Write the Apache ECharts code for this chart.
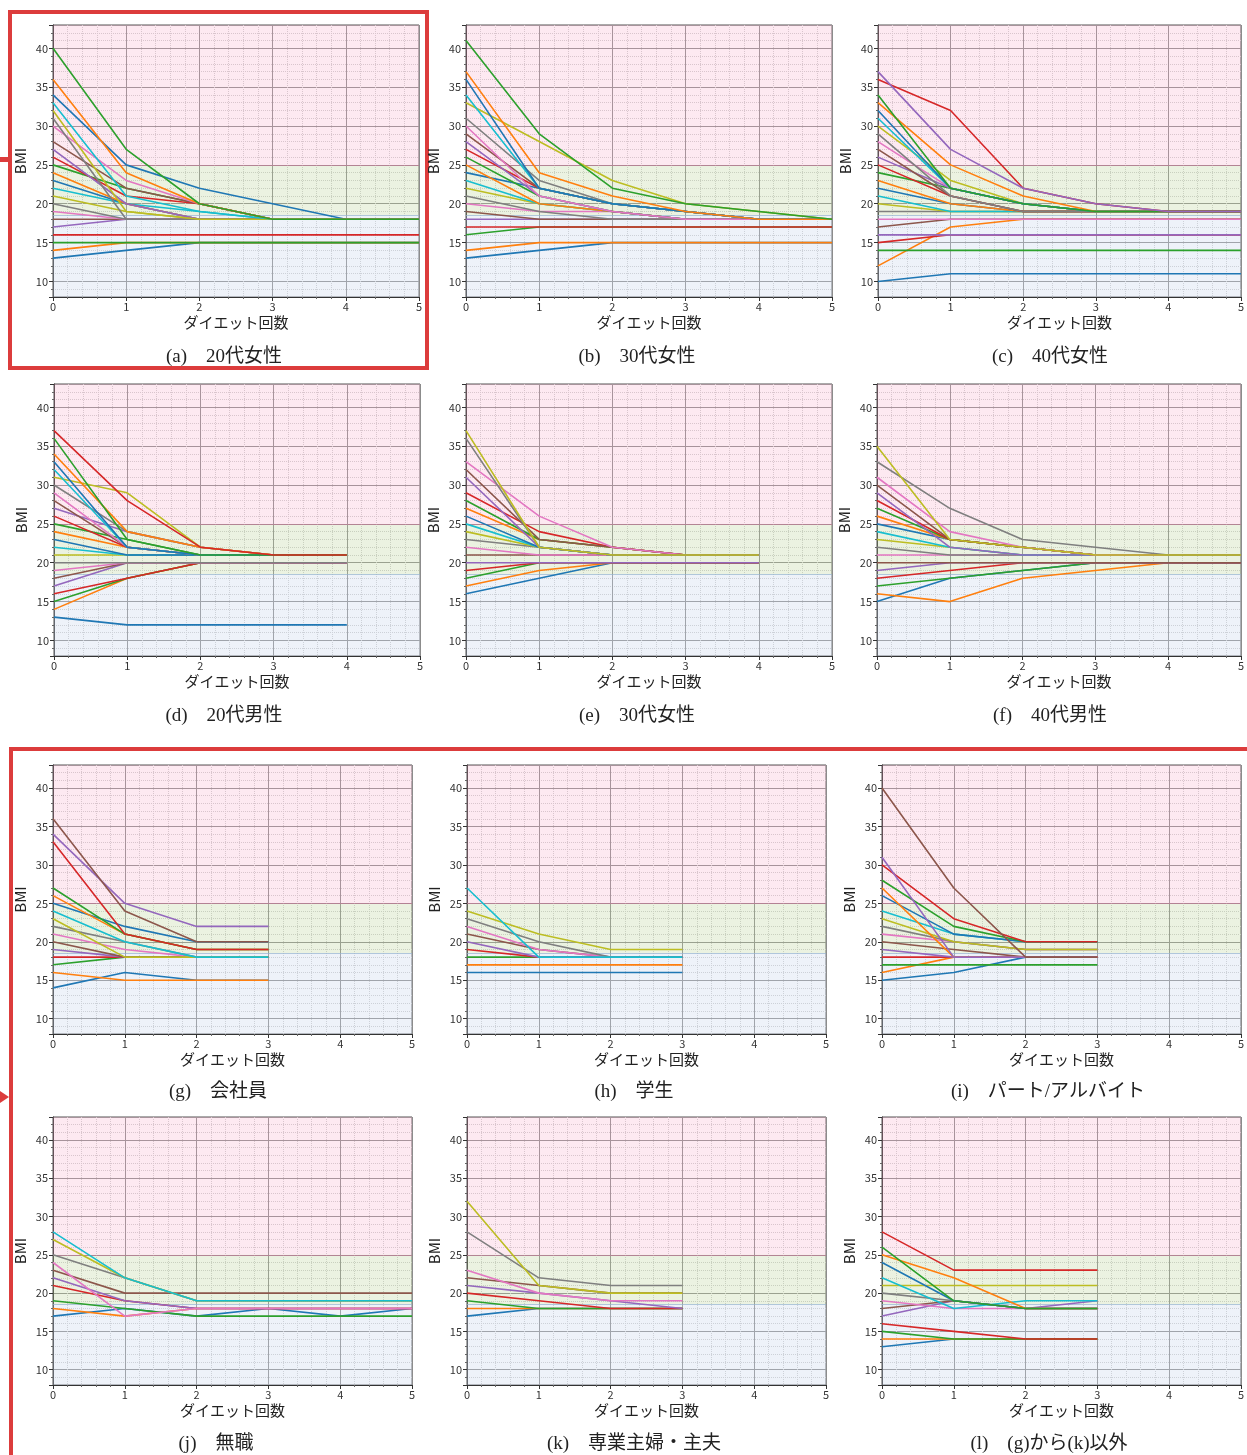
<!DOCTYPE html>
<html>
<head>
<meta charset="utf-8">
<script src="https://cdn.jsdelivr.net/npm/echarts@6/dist/echarts.min.js"></script>
<style>
  html, body { margin: 0; padding: 0; background: #fff; }
  #bmi { width: 1247px; height: 1455px; }
</style>
</head>
<body>
<div id="bmi"></div>
<script>
// x = ダイエット回数 (index), value = BMI
var bmiA = [
  [13,14,15,15,15,15],[14,15,15,15,15,15],[15,15,15,15,15,15],[16,16,16,16,16,16],
  [17,18,18,18,18,18],[18,18,18,18,18,18],[19,18,18,18,18,18],[20,18,18,18,18,18],
  [21,19,18,18,18,18],[22,20,19,18,18,18],[23,20,18,18,18,18],[24,20,18,18,18,18],
  [25,22,20,18,18,18],[26,21,20,18,18,18],[27,20,18,18,18,18],[28,22,20,18,18,18],
  [30,23,20,18,18,18],[31,18,18,18,18,18],[32,19,18,18,18,18],[33,21,19,18,18,18],
  [34,25,22,20,18,18],[36,24,20,18,18,18],[40,27,20,18,18,18]
];
var bmiB = [
  [13,14,15,15,15,15],[14,15,15,15,15,15],[16,17,17,17,17,17],[17,17,17,17,17,17],
  [18,18,18,18,18,18],[19,18,18,18,18,18],[20,19,19,18,18,18],[21,19,18,18,18,18],
  [22,20,19,18,18,18],[23,20,19,18,18,18],[24,22,20,19,18,18],[25,20,19,18,18,18],
  [26,21,19,18,18,18],[27,22,20,19,18,18],[28,21,19,18,18,18],[29,22,20,19,18,18],
  [30,21,19,18,18,18],[31,23,20,19,18,18],[33,28,23,20,19,18],[34,22,20,19,18,18],
  [36,22,20,19,18,18],[37,24,21,19,18,18],[41,29,22,20,19,18]
];
var bmiC = [
  [10,11,11,11,11,11],[12,17,18,18,18,18],[14,14,14,14,14,14],[15,16,16,16,16,16],
  [16,16,16,16,16,16],[17,18,18,18,18,18],[18,18,18,18,18,18],[19,19,19,19,19,19],
  [20,19,19,19,19,19],[21,19,19,19,19,19],[22,20,19,19,19,19],[23,20,19,19,19,19],
  [24,22,20,19,19,19],[25,21,19,19,19,19],[26,22,20,19,19,19],[27,21,19,19,19,19],
  [28,22,20,19,19,19],[29,21,19,19,19,19],[30,23,20,19,19,19],[31,22,20,19,19,19],
  [32,22,20,19,19,19],[33,25,21,19,19,19],[34,22,20,19,19,19],[36,32,22,20,19,19],
  [37,27,22,20,19,19]
];
var bmiD = [
  [13,12,12,12,12],[14,18,20,20,20],[15,18,20,20,20],[16,18,20,20,20],
  [17,20,20,20,20],[18,20,20,20,20],[19,20,20,20,20],[20,20,20,20,20],
  [21,21,21,21,21],[22,21,21,21,21],[23,21,21,21,21],[24,22,21,21,21],
  [25,23,21,21,21],[26,22,21,21,21],[27,24,22,21,21],[28,22,21,21,21],
  [29,22,21,21,21],[30,24,22,21,21],[31,29,22,21,21],[32,22,21,21,21],
  [33,22,21,21,21],[34,24,22,21,21],[36,23,21,21,21],[37,28,22,21,21]
];
var bmiE = [
  [16,18,20,20,20],[17,19,20,20,20],[18,20,20,20,20],[19,20,20,20,20],
  [20,20,20,20,20],[21,21,21,21,21],[22,21,21,21,21],[23,22,21,21,21],
  [24,22,21,21,21],[25,22,21,21,21],[26,22,21,21,21],[27,23,22,21,21],
  [28,23,22,21,21],[29,24,22,21,21],[31,22,21,21,21],[32,23,22,21,21],
  [33,26,22,21,21],[36,22,21,21,21],[37,22,21,21,21]
];
var bmiF = [
  [15,18,19,20,20,20],[16,15,18,19,20,20],[17,18,19,20,20,20],[18,19,20,20,20,20],
  [19,20,20,20,20,20],[20,20,20,20,20,20],[21,21,21,21,21,21],[22,21,21,21,21,21],
  [23,22,21,21,21,21],[24,22,21,21,21,21],[25,23,22,21,21,21],[26,23,22,21,21,21],
  [27,23,22,21,21,21],[28,23,22,21,21,21],[29,22,21,21,21,21],[30,23,22,21,21,21],
  [31,24,22,21,21,21],[33,27,23,22,21,21],[35,23,22,21,21,21]
];
var bmiG = [
  [14,16,15,15],[16,15,15,15],[17,18,18,18],[18,18,18,18],[19,18,18,18],[20,18,18,18],
  [21,19,18,18],[22,20,18,18],[23,18,18,18],[24,20,18,18],[25,22,20,20],[26,21,19,19],
  [27,21,19,19],[33,21,19,19],[34,25,22,22],[36,24,20,20]
];
var bmiH = [
  [16,16,16,16],[17,17,17,17],[18,18,18,18],[19,18,18,18],[20,18,18,18],
  [21,19,18,18],[22,19,18,18],[23,20,18,18],[24,21,19,19],[27,18,18,18]
];
var bmiI = [
  [15,16,18,18],[16,18,18,18],[17,17,17,17],[18,18,18,18],[19,18,18,18],[20,19,18,18],
  [21,20,19,19],[22,20,19,19],[23,20,19,19],[24,21,20,20],[26,21,20,20],[27,18,18,18],
  [28,22,20,20],[30,23,20,20],[31,18,18,18],[40,27,18,18]
];
var bmiJ = [
  [17,18,17,18,17,18],[18,17,18,18,18,18],[19,18,17,17,17,17],[21,19,18,18,18,18],
  [22,19,18,18,18,18],[23,20,20,20,20,20],[24,17,18,18,18,18],[25,22,19,19,19,19],
  [27,22,19,19,19,19],[28,22,19,19,19,19]
];
var bmiK = [
  [17,18,18,18],[18,18,18,18],[19,18,18,18],[20,19,18,18],[21,20,19,18],
  [22,21,20,20],[23,20,19,19],[28,22,21,21],[32,21,20,20]
];
var bmiL = [
  [13,14,14,14],[14,14,14,14],[15,14,14,14],[16,15,14,14],[17,19,18,19],[18,19,18,18],
  [19,18,18,18],[20,19,18,18],[21,21,21,21],[22,18,19,19],[24,19,18,18],[25,22,18,18],
  [26,19,18,18],[28,23,23,23]
];
var captions = [
  '(a)\u300020代女性', '(b)\u300030代女性', '(c)\u300040代女性',
  '(d)\u300020代男性', '(e)\u300030代女性', '(f)\u300040代男性',
  '(g)\u3000会社員', '(h)\u3000学生', '(i)\u3000パート/アルバイト',
  '(j)\u3000無職', '(k)\u3000専業主婦・主夫', '(l)\u3000(g)から(k)以外'
];
var bands = [8, 18.5, 25, 43];

var panelData = [bmiA, bmiB, bmiC, bmiD, bmiE, bmiF, bmiG, bmiH, bmiI, bmiJ, bmiK, bmiL];
var palette = ['#1f77b4','#ff7f0e','#2ca02c','#d62728','#9467bd','#8c564b','#e377c2','#7f7f7f','#bcbd22','#17becf'];

var lefts = [[53,466,878],[54,466,877],[53,467,882],[53,467,882]];
var widths = [366,366,359,359];
var tops = [25,384,765,1117];
var heights = [272,272,269,268];
var capTops = [343,702,1078,1430];
var capX = [[219,632,1045],[219,632,1045],[213,629,1043],[211,629,1044]];

var sansFont = "'Noto Sans CJK JP', 'Noto Sans', sans-serif";
var grids = [], xAxes = [], yAxes = [], series = [], titles = [];

for (var p = 0; p < 12; p++) {
  var row = Math.floor(p / 3), col = p % 3;
  grids.push({
    left: lefts[row][col], top: tops[row], width: widths[row], height: heights[row],
    show: true, borderColor: '#555', borderWidth: 1, backgroundColor: 'transparent'
  });
  xAxes.push({
    type: 'value', gridIndex: p, min: 0, max: 5, interval: 1,
    name: 'ダイエット回数', nameLocation: 'middle', nameGap: 18,
    nameTextStyle: { fontSize: 15, color: '#222', fontFamily: sansFont, verticalAlign: 'top' },
    axisLine: { show: true, onZero: false, lineStyle: { color: '#333' } },
    axisTick: { show: true, length: 4, lineStyle: { color: '#333' } },
    minorTick: { show: true, splitNumber: 5, length: 2, lineStyle: { color: '#666' } },
    axisLabel: { fontSize: 11, color: '#333', margin: 4, fontFamily: sansFont },
    splitLine: { show: true, lineStyle: { color: '#8c8c8c', width: 1 } },
    minorSplitLine: { show: true, lineStyle: { color: '#cfcfcf', type: 'dotted' } }
  });
  yAxes.push({
    type: 'value', gridIndex: p, min: 8, max: 43, splitNumber: 7,
    name: 'BMI', nameLocation: 'middle', nameGap: 25,
    nameTextStyle: { fontSize: 15, color: '#222', fontFamily: sansFont },
    axisLine: { show: true, onZero: false, lineStyle: { color: '#333' } },
    axisTick: { show: true, length: 4, lineStyle: { color: '#333' } },
    minorTick: { show: true, splitNumber: 5, length: 2, lineStyle: { color: '#666' } },
    axisLabel: { fontSize: 11, color: '#333', margin: 5, showMinLabel: false, showMaxLabel: false, fontFamily: sansFont },
    splitLine: { show: true, lineStyle: { color: '#8c8c8c', width: 1 } },
    minorSplitLine: { show: true, lineStyle: { color: '#cfcfcf', type: 'dotted' } }
  });

  var lines = panelData[p];
  for (var k = 0; k < lines.length; k++) {
    var s = {
      type: 'line', xAxisIndex: p, yAxisIndex: p,
      data: lines[k].map(function (v, i) { return [rounds(i), v]; }),
      showSymbol: false, symbol: 'none', silent: true,
      lineStyle: { width: 1.6, color: palette[k % 10] },
      itemStyle: { color: palette[k % 10] }
    };
    if (k === 0) {
      s.markArea = {
        silent: true,
        data: [
          [{ yAxis: bands[0], itemStyle: { color: 'rgba(202,215,235,0.32)' } }, { yAxis: bands[1] }],
          [{ yAxis: bands[1], itemStyle: { color: 'rgba(188,212,155,0.30)' } }, { yAxis: bands[2] }],
          [{ yAxis: bands[2], itemStyle: { color: 'rgba(247,167,199,0.25)' } }, { yAxis: bands[3] }]
        ]
      };
      s.markLine = {
        silent: true, z: 1, symbol: ['none', 'none'], label: { show: false },
        data: [
          { yAxis: bands[2], lineStyle: { color: 'rgba(190,120,150,0.7)', type: 'solid', width: 1 } },
          { yAxis: bands[1], lineStyle: { color: 'rgba(150,180,210,0.7)', type: 'solid', width: 1 } }
        ]
      };
    }
    series.push(s);
  }

  titles.push({
    text: captions[p], left: capX[row][col], top: capTops[row], textAlign: 'center',
    textStyle: { fontSize: 19, fontWeight: 'normal', color: '#222',
      fontFamily: "'Liberation Serif', 'Noto Sans CJK JP', serif" }
  });
}

function rounds(i) { return i; }

var red = '#dc3c3c';
var option = {
  animation: false,
  backgroundColor: '#fff',
  title: titles,
  grid: grids,
  xAxis: xAxes,
  yAxis: yAxes,
  series: series,
  graphic: [
    { type: 'rect', shape: { x: 10, y: 12, width: 417, height: 356 }, style: { fill: null, stroke: red, lineWidth: 4 } },
    { type: 'rect', shape: { x: 0, y: 157, width: 10, height: 5 }, style: { fill: red } },
    { type: 'polyline', shape: { points: [[1247, 749], [11, 749], [11, 1455]] }, style: { fill: null, stroke: red, lineWidth: 4 } },
    { type: 'polygon', shape: { points: [[0, 1091], [9, 1097], [0, 1103]] }, style: { fill: red } }
  ]
};

var myChart = echarts.init(document.getElementById('bmi'));
myChart.setOption(option);
</script>
</body>
</html>
